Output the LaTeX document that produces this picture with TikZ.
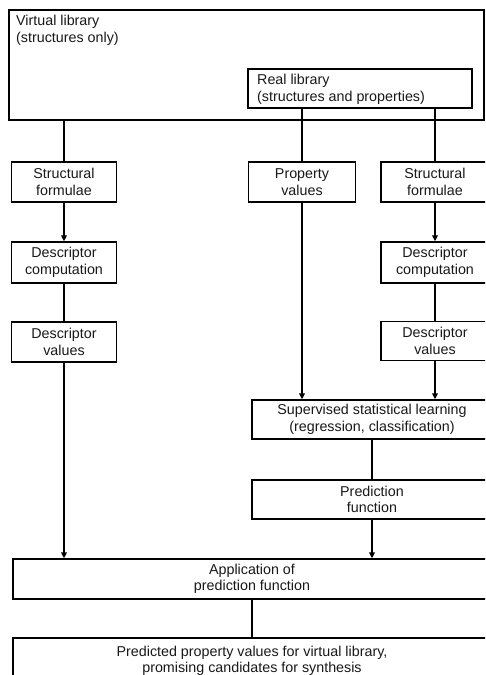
\documentclass[tikz,border=0pt]{standalone}
\usepackage{fontspec}
\setmainfont{Liberation Sans}
\usetikzlibrary{arrows.meta}
\begin{document}
\begin{tikzpicture}[x=1pt,y=-1pt,
  every node/.style={font=\fontsize{14.3}{16.5}\selectfont, text=black!90},
  box/.style={draw, line width=1.3pt, inner sep=0pt, align=center, anchor=center},
  flow/.style={line width=1.4pt},
  arr/.style={flow, -{Triangle[length=6pt,width=5.5pt]}}]
\useasboundingbox (0,0) rectangle (485,675);
\clip (0,0) rectangle (485,675);
\fill[white] (0,0) rectangle (485,675);
% top boxes
\node[box, minimum width=475pt, minimum height=110pt] (vlib) at (246.5,65) {};
\node[anchor=north west, align=left, inner sep=0pt] (vlibtext) at (16,15) {Virtual library\\(structures only)};
\node[box, minimum width=224pt, minimum height=39pt] (rlib) at (360,88.5) {};
\node[anchor=north west, align=left, inner sep=0pt] (rlibtext) at (257,74) {Real library\\(structures and properties)};
% row 1
\node[box, minimum width=105pt, minimum height=40pt] (sf1) at (64,182) {Structural\\formulae};
\node[box, minimum width=107pt, minimum height=40pt] (pv) at (302,182) {Property\\values};
\node[box, minimum width=108pt, minimum height=40pt] (sf2) at (435,182) {Structural\\formulae};
% row 2
\node[box, minimum width=105pt, minimum height=41pt] (dc1) at (64,262.5) {Descriptor\\computation};
\node[box, minimum width=108pt, minimum height=41pt] (dc2) at (435,262.5) {Descriptor\\computation};
% row 3
\node[box, minimum width=105pt, minimum height=40pt] (dv1) at (64,342) {Descriptor\\values};
\node[box, minimum width=108pt, minimum height=39pt] (dv2) at (435,341) {Descriptor\\values};
% learning
\node[box, minimum width=240pt, minimum height=39pt] (sl) at (372,419.5) {Supervised statistical learning\\(regression, classification)};
\node[box, minimum width=240pt, minimum height=39pt] (pf) at (372,499.5) {Prediction\\function};
% application
\node[box, minimum width=478pt, minimum height=40pt] (app) at (252,579) {Application of\\prediction function};
\node[box, minimum width=478pt, minimum height=46pt] (pred) at (252,661) {Predicted property values for virtual library,\\promising candidates for synthesis};
% connectors
\draw[flow] (sf1.north |- vlib.south) -- (sf1.north);
\draw[flow] (pv.north |- rlib.south) -- (pv.north);
\draw[flow] (sf2.north |- rlib.south) -- (sf2.north);
\draw[arr] (sf1) -- (dc1);
\draw[flow] (dc1) -- (dv1);
\draw[arr] (sf2) -- (dc2);
\draw[flow] (dc2) -- (dv2);
\draw[arr] (pv.south) -- (pv.south |- sl.north);
\draw[arr] (dv2.south) -- (dv2.south |- sl.north);
\draw[flow] (sl) -- (pf);
\draw[arr] (dv1.south) -- (dv1.south |- app.north);
\draw[arr] (pf.south) -- (pf.south |- app.north);
\draw[flow] (app) -- (pred);
\end{tikzpicture}
\end{document}
